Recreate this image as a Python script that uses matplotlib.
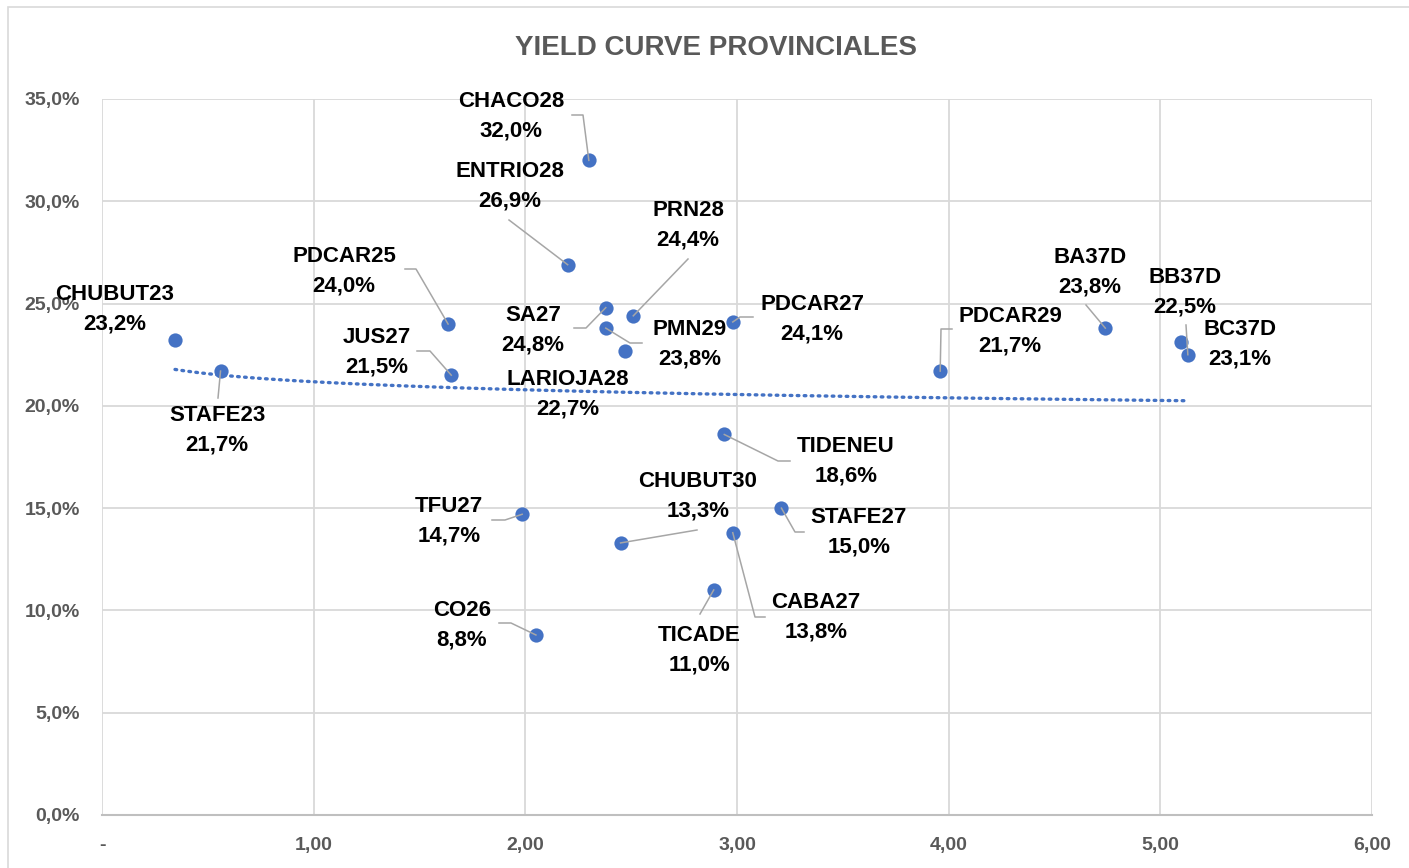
import numpy as np
import matplotlib
matplotlib.use("Agg")
import matplotlib.pyplot as plt
from matplotlib.patches import Rectangle

# ---------------- data ----------------
names = ["CHUBUT23", "STAFE23", "PDCAR25", "JUS27", "ENTRIO28", "CHACO28", "SA27",
         "PMN29", "LARIOJA28", "PRN28", "PDCAR27", "TIDENEU", "TFU27", "CHUBUT30",
         "CABA27", "STAFE27", "TICADE", "CO26", "PDCAR29", "BA37D", "BB37D", "BC37D"]
duration = [0.345, 0.56, 1.635, 1.65, 2.20, 2.30, 2.38, 2.38, 2.47, 2.51, 2.98, 2.94,
            1.985, 2.45, 2.98, 3.21, 2.89, 2.05, 3.96, 4.74, 5.13, 5.10]
yields = [23.2, 21.7, 24.0, 21.5, 26.9, 32.0, 24.8, 23.8, 22.7, 24.4, 24.1, 18.6,
          14.7, 13.3, 13.8, 15.0, 11.0, 8.8, 21.7, 23.8, 22.5, 23.1]
x_ticks = [0, 1, 2, 3, 4, 5, 6]
x_tick_labels = ["-", "1,00", "2,00", "3,00", "4,00", "5,00", "6,00"]
y_ticks = [0, 5, 10, 15, 20, 25, 30, 35]
y_tick_labels = ["0,0%", "5,0%", "10,0%", "15,0%", "20,0%", "25,0%", "30,0%", "35,0%"]
title = "YIELD CURVE PROVINCIALES"

# ---------------- label layout (image pixels, top-left origin) ----------------
# name: (label centre x, label centre y, leader knots before the point)
label_layout = {
    "CHACO28":   (511, 116, [(572, 115), (583, 115)]),
    "ENTRIO28":  (510, 186, [(509, 220)]),
    "PRN28":     (688, 225, [(688, 259)]),
    "PDCAR25":   (344, 271, [(405, 269), (416, 269)]),
    "CHUBUT23":  (115, 309, []),
    "JUS27":     (377, 352, [(417, 351), (430, 351)]),
    "SA27":      (533, 330, [(574, 328), (586, 328)]),
    "PMN29":     (690, 344, [(642, 343), (630, 343)]),
    "LARIOJA28": (568, 394, []),
    "PDCAR27":   (812, 319, [(753, 317), (740, 317)]),
    "PDCAR29":   (1010, 331, [(952, 329), (941, 329)]),
    "BA37D":     (1090, 272, [(1086, 305)]),
    "BB37D":     (1185, 292, [(1186, 325)]),
    "BC37D":     (1240, 344, []),
    "STAFE23":   (217, 430, [(218, 398)]),
    "TIDENEU":   (846, 461, [(790, 461), (778, 461)]),
    "CHUBUT30":  (698, 496, [(697, 530)]),
    "TFU27":     (449, 521, [(492, 520), (505, 520)]),
    "STAFE27":   (859, 532, [(804, 532), (795, 532)]),
    "CABA27":    (816, 617, [(765, 617), (755, 617)]),
    "TICADE":    (699, 650, [(700, 614)]),
    "CO26":      (462, 625, [(499, 623), (511, 623)]),
}

W, H = 1409, 868
FONT = ["Liberation Sans", "DejaVu Sans"]
plt.rcParams["font.family"] = FONT

fig = plt.figure(figsize=(W / 100, H / 100), dpi=100)
fig.patch.set_facecolor("white")

# outer chart border
fig.patches.append(Rectangle((8 / W, -0.5), 1.5, 1.5 - 7 / H, transform=fig.transFigure,
                             fill=False, edgecolor="#d9d9d9", linewidth=1.2))

L, R, T, B = 102, 1372, 99, 815
ax = fig.add_axes([L / W, 1 - B / H, (R - L) / W, (B - T) / H])
ax.set_xlim(0, 6)
ax.set_ylim(0, 35)
ax.set_xticks(x_ticks)
ax.set_xticklabels(x_tick_labels)
ax.set_yticks(y_ticks)
ax.set_yticklabels(y_tick_labels)
ax.tick_params(length=0, pad=16, labelsize=14, labelcolor="#595959")
for lab in ax.get_xticklabels() + ax.get_yticklabels():
    lab.set_fontweight("bold")
ax.grid(True, color="#d9d9d9", linewidth=1.3)
ax.set_axisbelow(True)
for s in ["left", "right", "top"]:
    ax.spines[s].set_visible(False)
ax.spines["bottom"].set_color("#bfbfbf")
ax.spines["bottom"].set_linewidth(1.5)
ax.spines["bottom"].set_zorder(3)

# trendline (logarithmic fit to data)
xd = np.array(duration)
yd = np.array(yields)
b, a = np.polyfit(np.log(xd), yd, 1)
xt = np.linspace(xd.min(), xd.max(), 200)
ax.plot(xt, a + b * np.log(xt), color="#4472C4", linewidth=2.4,
        linestyle=(0, (0.5, 1.6)), dash_capstyle="round", zorder=2)

# points
ax.scatter(duration, yields, s=105, color="#4472C4", zorder=4, linewidths=0)


def pix2fig(p):
    return (p[0] / W, 1 - p[1] / H)


# leader lines and labels
for n, xv, yv in zip(names, duration, yields):
    cx, cy, knots = label_layout[n]
    if knots:
        pts = [pix2fig(k) for k in knots]
        disp = ax.transData.transform((xv, yv))
        pf = fig.transFigure.inverted().transform(disp)
        pts.append(tuple(pf))
        xs, ys = zip(*pts)
        fig.add_artist(plt.Line2D(xs, ys, transform=fig.transFigure,
                                  color="#a6a6a6", linewidth=1.1, zorder=3))
    val = f"{yv:.1f}".replace(".", ",") + "%"
    fx, fy = pix2fig((cx, cy))
    fig.text(fx, fy, f"{n}\n{val}", ha="center", va="center", ma="center",
             fontsize=16, fontweight="bold", color="black", linespacing=1.55,
             zorder=5)

fig.text(716 / W, 1 - 48 / H, title, ha="center", va="center",
         fontsize=20, fontweight="bold", color="#595959")

fig.savefig("out.png", dpi=100)
